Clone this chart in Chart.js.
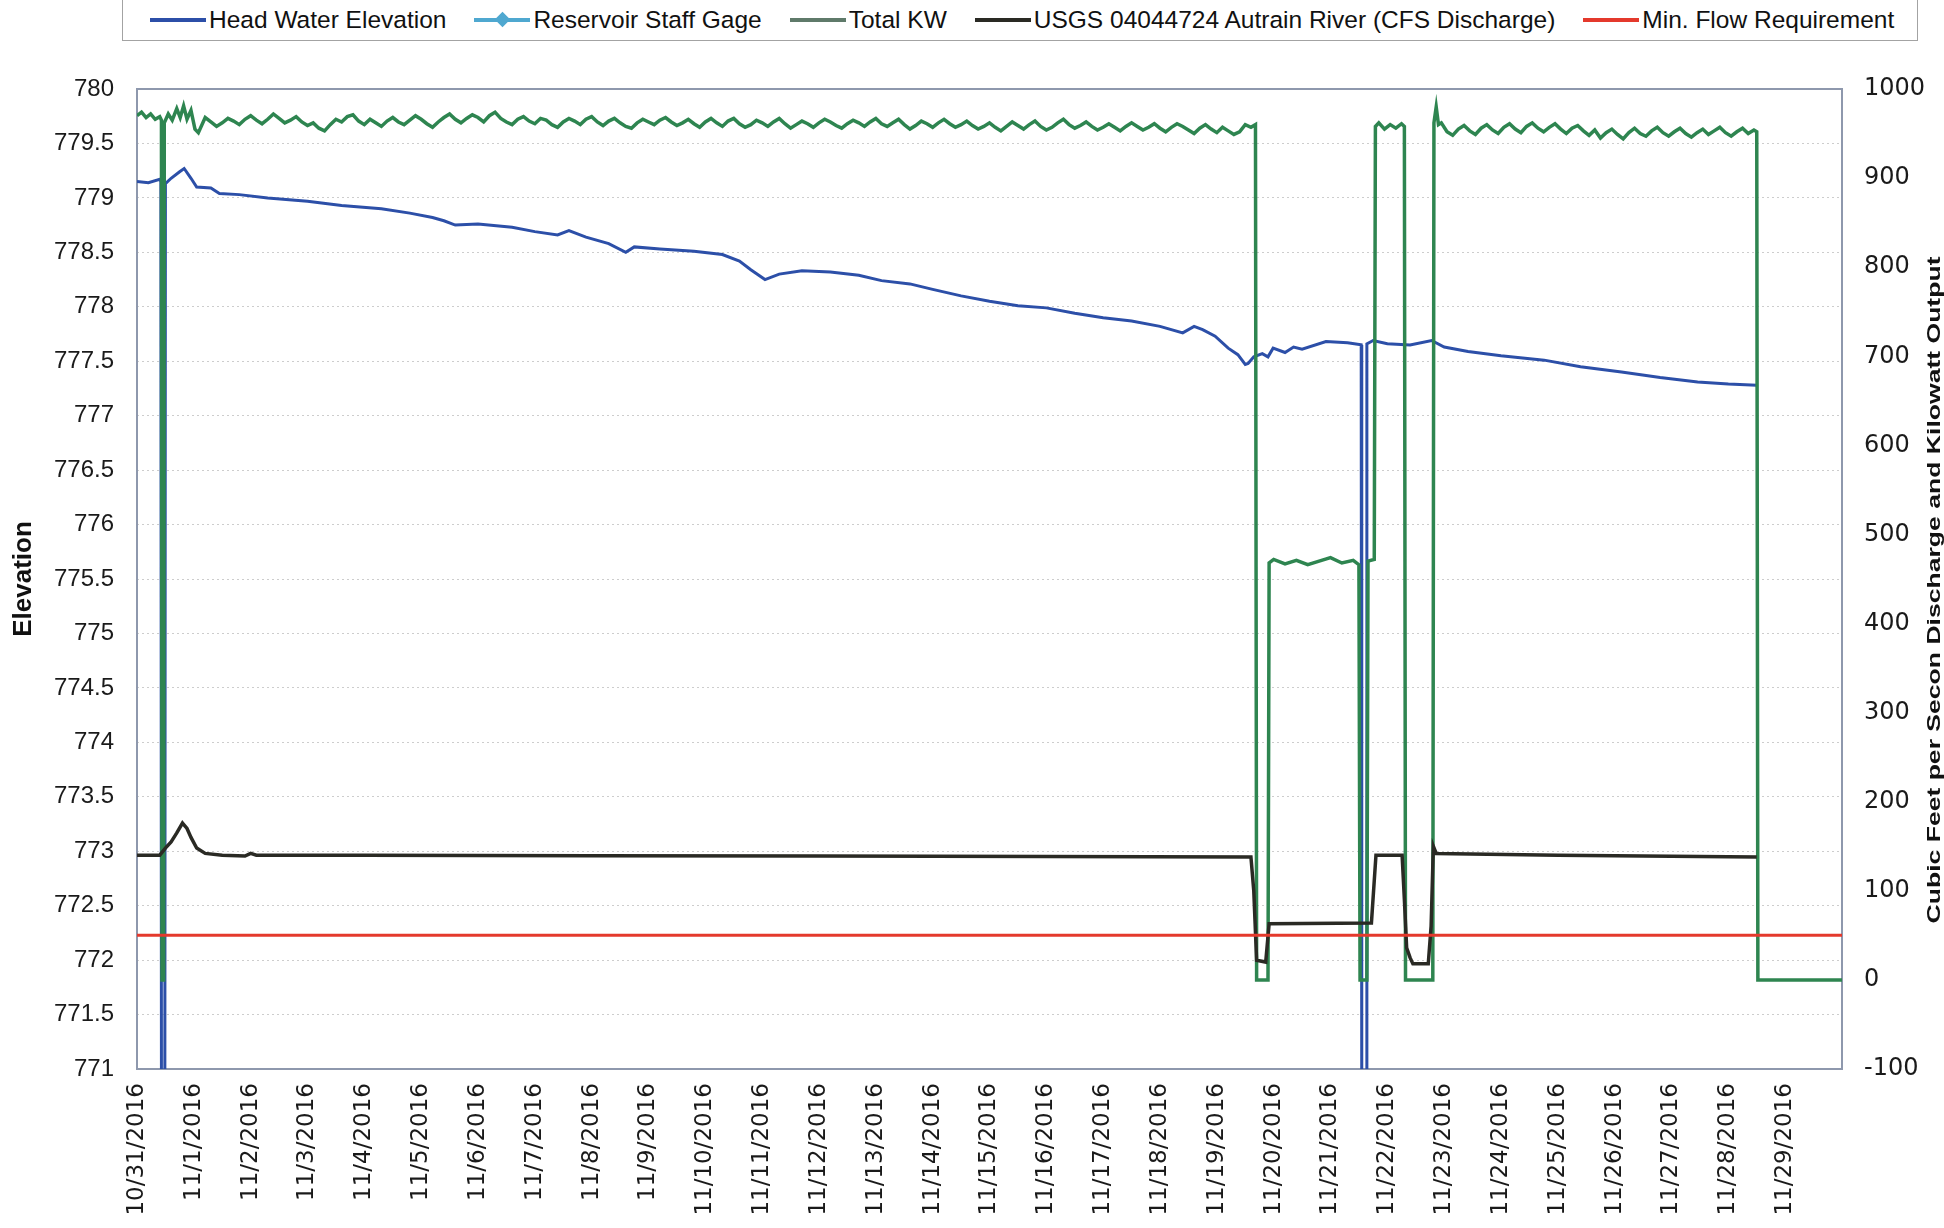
<!DOCTYPE html>
<html>
<head>
<meta charset="utf-8">
<script src="https://cdn.jsdelivr.net/npm/chart.js@4.4.1/dist/chart.umd.min.js"></script>
<style>
  html, body { margin: 0; padding: 0; background: #fff; }
  #wrap { position: relative; width: 1944px; height: 1228px; }
  #legend {
    position: absolute; left: 122px; top: -2px; width: 1796px; height: 43px;
    border: 1.5px solid #a3a3a3; box-sizing: border-box; background: #fff;
    font-family: 'Liberation Sans', Arial, sans-serif; font-size: 24.5px; color: #111;
    display: flex; align-items: center; padding-left: 27px; white-space: nowrap;
  }
  .item { display: flex; align-items: center; margin-right: 28px; }
  .swatch { position: relative; width: 56px; height: 4px; margin-right: 3px; }
  .diamond { position: absolute; left: 23px; top: -4px; width: 11px; height: 11px; transform: rotate(45deg); }
</style>
</head>
<body>
<div id="wrap">
  <canvas id="chart" width="1944" height="1228"></canvas>
  <div id="legend"></div>
</div>
<script>
// x values are days since 10/31/2016 00:00
const dateLabels = ['10/31/2016', '11/1/2016', '11/2/2016', '11/3/2016', '11/4/2016', '11/5/2016',
  '11/6/2016', '11/7/2016', '11/8/2016', '11/9/2016', '11/10/2016', '11/11/2016', '11/12/2016',
  '11/13/2016', '11/14/2016', '11/15/2016', '11/16/2016', '11/17/2016', '11/18/2016', '11/19/2016',
  '11/20/2016', '11/21/2016', '11/22/2016', '11/23/2016', '11/24/2016', '11/25/2016', '11/26/2016',
  '11/27/2016', '11/28/2016', '11/29/2016'];

const seriesNames = ['Head Water Elevation', 'Reservoir Staff Gage', 'Total KW',
  'USGS 04044724 Autrain River (CFS Discharge)', 'Min. Flow Requirement'];
const seriesColors = ['#2c4fa8', '#4fa8d0', '#2e8550', '#2a2a24', '#e4392c'];
const legendColors = ['#2c4fa8', '#4fa8d0', '#5f7a6a', '#2a2a24', '#e4392c'];

const elevationTicks = { min: 771, max: 780, step: 0.5 };
const flowTicks = { min: -100, max: 1000, step: 100 };

// Head Water Elevation (ft, left axis)
const headWater = [
  [0, 779.15], [0.2, 779.14], [0.4, 779.17], [0.42, 779.15], [0.43, 770.9], [0.49, 770.9],
  [0.50, 779.13], [0.6, 779.18], [0.75, 779.24], [0.83, 779.27], [0.95, 779.18], [1.05, 779.10],
  [1.3, 779.09], [1.45, 779.04], [1.8, 779.03], [2.3, 779.0], [3.0, 778.97], [3.6, 778.93],
  [4.3, 778.90], [4.8, 778.86], [5.2, 778.82], [5.4, 778.79], [5.6, 778.75], [6.0, 778.76],
  [6.6, 778.73], [7.0, 778.69], [7.4, 778.66], [7.6, 778.70], [7.9, 778.64], [8.3, 778.58],
  [8.6, 778.50], [8.75, 778.55], [9.2, 778.53], [9.8, 778.51], [10.3, 778.48], [10.6, 778.42],
  [10.8, 778.34], [11.05, 778.25], [11.3, 778.30], [11.7, 778.33], [12.2, 778.32], [12.7, 778.29],
  [13.1, 778.24], [13.6, 778.21], [14.0, 778.16], [14.5, 778.10], [15.0, 778.05], [15.5, 778.01],
  [16.0, 777.99], [16.5, 777.94], [17.0, 777.90], [17.5, 777.87], [18.0, 777.82], [18.4, 777.76],
  [18.6, 777.82], [18.75, 777.79], [18.97, 777.73], [19.2, 777.62], [19.37, 777.56], [19.5, 777.47],
  [19.55, 777.48], [19.65, 777.54], [19.8, 777.57], [19.9, 777.54], [19.99, 777.62], [20.2, 777.58],
  [20.35, 777.63], [20.5, 777.61], [20.92, 777.68], [21.3, 777.67], [21.54, 777.65], [21.55, 770.9],
  [21.63, 770.9], [21.64, 777.66], [21.75, 777.69], [22.0, 777.66], [22.4, 777.65], [22.78, 777.69],
  [23.0, 777.63], [23.42, 777.59], [24.0, 777.55], [24.76, 777.51], [25.4, 777.45], [26.12, 777.40],
  [26.8, 777.35], [27.46, 777.31], [28.0, 777.29], [28.5, 777.28]
];

// Reservoir Staff Gage: no readings visible in this period
const staffGage = [];

// Total KW (right axis): step edges and short stretches
const kwEdgesStart = [
  [0, 970], [0.08, 974], [0.16, 968], [0.24, 972], [0.32, 966], [0.40, 969], [0.43, 965],
  [0.44, 0], [0.47, 0], [0.48, 962], [0.55, 972], [0.62, 965], [0.70, 978], [0.76, 968],
  [0.82, 981], [0.88, 966], [0.95, 976], [1.02, 955], [1.08, 951]
];
// Total KW read every 0.1 day from 1.2 to 19.6
const kwRunStartA = 1.2;
const kwRunA = [
  968, 963, 958, 962, 967, 964, 960, 966, 970, 965,
  961, 966, 972, 967, 962, 965, 969, 963, 959, 962,
  956, 953, 960, 966, 963, 969, 971, 964, 960, 966,
  962, 958, 964, 968, 963, 960, 965, 970, 966, 961,
  957, 963, 968, 972, 966, 962, 967, 971, 968, 963,
  970, 974, 967, 963, 960, 966, 969, 964, 961, 967,
  965, 960, 957, 963, 967, 964, 960, 966, 969, 963,
  959, 964, 967, 962, 958, 956, 962, 966, 963, 960,
  965, 968, 963, 959, 962, 966, 961, 957, 963, 967,
  962, 958, 964, 967, 961, 957, 960, 965, 962, 958,
  963, 967, 961, 956, 960, 964, 961, 957, 962, 966,
  963, 959, 956, 961, 965, 962, 958, 963, 967, 961,
  958, 962, 966, 960, 955, 959, 964, 961, 957, 962,
  966, 961, 957, 960, 964, 959, 955, 958, 962, 957,
  953, 958, 963, 959, 955, 960, 964, 958, 954, 957,
  962, 966, 960, 956, 959, 963, 958, 954, 957, 961,
  957, 953, 958, 962, 958, 954, 957, 961, 956, 952,
  957, 961, 958, 954, 950, 956, 960, 955, 951, 957,
  953, 949, 952, 960, 957
];
const kwEdgesMid = [
  [19.68, 960], [19.70, 0], [19.90, 0], [19.92, 468],
  [20.0, 472], [20.2, 467], [20.4, 471], [20.6, 466], [20.8, 470], [21.0, 474], [21.2, 468],
  [21.4, 471], [21.5, 466], [21.52, 0], [21.64, 0], [21.66, 470], [21.77, 472], [21.79, 958],
  [21.85, 962], [21.95, 955], [22.05, 960], [22.15, 956], [22.25, 961], [22.30, 958], [22.32, 0],
  [22.80, 0], [22.82, 962], [22.86, 980], [22.90, 960]
];
// Total KW read every 0.1 day from 22.95 to 28.45
const kwRunStartB = 22.95;
const kwRunB = [
  962, 952, 948, 955, 959, 953, 949, 956, 960, 954,
  950, 957, 961, 955, 951, 958, 962, 956, 952, 957,
  961, 955, 950, 956, 959, 953, 948, 954, 945, 951,
  955, 949, 944, 951, 956, 950, 947, 953, 957, 951,
  947, 952, 956, 950, 946, 951, 955, 949, 953, 957,
  951, 947, 952, 956, 950, 954
];
const kwEdgesEnd = [[28.5, 952], [28.52, 0], [30, 0]];

// USGS 04044724 discharge, cfs (right axis)
const usgsFlow = [
  [0, 140], [0.40, 140], [0.5, 148], [0.6, 155], [0.7, 165], [0.8, 176], [0.88, 170], [0.95, 160],
  [1.05, 148], [1.2, 142], [1.5, 140], [1.9, 139], [2.0, 142], [2.1, 140], [4, 140], [8, 139.5],
  [12, 139], [16, 138.5], [19.6, 138], [19.65, 100], [19.70, 22], [19.86, 20], [19.92, 63],
  [21.72, 64], [21.80, 140], [22.26, 140], [22.30, 90], [22.34, 36], [22.40, 25], [22.45, 18],
  [22.72, 18], [22.77, 60], [22.81, 150], [22.86, 142], [25, 140], [28.5, 138]
];

// Min. Flow Requirement, cfs (right axis)
const minFlow = [[0, 50], [30, 50]];

const rightTitle = 'Cubic Feet per Secon Discharge and Kilowatt Output';

const runPoints = (start, values) => values.map((v, i) => [start + i * 0.1, v]);
const totalKw = [].concat(kwEdgesStart, runPoints(kwRunStartA, kwRunA), kwEdgesMid,
  runPoints(kwRunStartB, kwRunB), kwEdgesEnd);

const seriesData = [headWater, staffGage, totalKw, usgsFlow, minFlow];
const seriesAxis = ['y', 'y', 'y1', 'y1', 'y1'];
const seriesWidth = [3, 3, 3.5, 3.5, 3];

const datasets = seriesNames.map((name, i) => ({
  label: name,
  data: seriesData[i].map(p => ({ x: p[0], y: p[1] })),
  yAxisID: seriesAxis[i],
  borderColor: seriesColors[i],
  backgroundColor: seriesColors[i],
  borderWidth: seriesWidth[i],
  pointRadius: 0,
  tension: 0,
  fill: false,
  order: 5 - i
}));

// plot frame and right-hand axis title (reads bottom to top)
const framePlugin = {
  id: 'framePlugin',
  beforeDatasetsDraw(chart) {
    const { ctx, chartArea: a } = chart;
    ctx.save();
    ctx.strokeStyle = '#8e98ad';
    ctx.lineWidth = 2;
    ctx.strokeRect(a.left, a.top, a.right - a.left, a.bottom - a.top);
    ctx.restore();
  },
  afterDraw(chart) {
    const { ctx, chartArea: a } = chart;
    ctx.save();
    ctx.font = 'bold 19px "Liberation Sans", Arial, sans-serif';
    const w = ctx.measureText(rightTitle).width;
    ctx.translate(1935, (a.top + a.bottom) / 2 + 11);
    ctx.rotate(-Math.PI / 2);
    ctx.scale(667 / w, 1);
    ctx.fillStyle = '#111';
    ctx.textAlign = 'center';
    ctx.textBaseline = 'middle';
    ctx.fillText(rightTitle, 0, 0);
    ctx.restore();
  }
};

const ctx = document.getElementById('chart').getContext('2d');
new Chart(ctx, {
  type: 'line',
  data: { datasets: datasets },
  plugins: [framePlugin],
  options: {
    responsive: false,
    animation: false,
    devicePixelRatio: 1,
    layout: { padding: { top: 89, left: 0, right: 0, bottom: 0 } },
    plugins: {
      legend: { display: false },
      tooltip: { enabled: false }
    },
    scales: {
      x: {
        type: 'linear',
        min: 0,
        max: 30,
        afterFit(scale) { scale.height = 159; },
        grid: { display: false, drawTicks: false },
        border: { display: false },
        ticks: {
          stepSize: 1,
          autoSkip: false,
          minRotation: 90,
          maxRotation: 90,
          padding: 14,
          color: '#1a1a1a',
          font: { family: '"DejaVu Sans", sans-serif', size: 23 },
          callback: v => dateLabels[v] || ''
        }
      },
      y: {
        position: 'left',
        min: elevationTicks.min,
        max: elevationTicks.max,
        afterFit(scale) { scale.width = 137; },
        grid: { color: '#cdcdcd', lineWidth: 1, drawTicks: false },
        border: { display: false, dash: [2, 3] },
        ticks: {
          stepSize: elevationTicks.step,
          padding: 23,
          color: '#1a1a1a',
          font: { family: '"Liberation Sans", Arial, sans-serif', size: 24 },
          callback: v => String(v)
        },
        title: {
          display: true,
          text: 'Elevation',
          color: '#111',
          padding: { top: 8 },
          font: { family: '"Liberation Sans", Arial, sans-serif', size: 26, weight: 'bold' }
        }
      },
      y1: {
        position: 'right',
        min: flowTicks.min,
        max: flowTicks.max,
        afterFit(scale) { scale.width = 102; },
        grid: { drawOnChartArea: false, drawTicks: false },
        border: { display: false },
        ticks: {
          stepSize: flowTicks.step,
          padding: 22,
          color: '#1a1a1a',
          font: { family: '"DejaVu Sans", sans-serif', size: 24 },
          callback: v => String(v)
        }
      }
    }
  }
});

// legend box along the top
const legendEl = document.getElementById('legend');
seriesNames.forEach((name, i) => {
  const item = document.createElement('div');
  item.className = 'item';
  const sw = document.createElement('span');
  sw.className = 'swatch';
  sw.style.background = legendColors[i];
  if (i === 1) {
    const d = document.createElement('span');
    d.className = 'diamond';
    d.style.background = legendColors[i];
    sw.appendChild(d);
  }
  const txt = document.createElement('span');
  txt.textContent = name;
  item.appendChild(sw);
  item.appendChild(txt);
  legendEl.appendChild(item);
});
</script>
</body>
</html>
